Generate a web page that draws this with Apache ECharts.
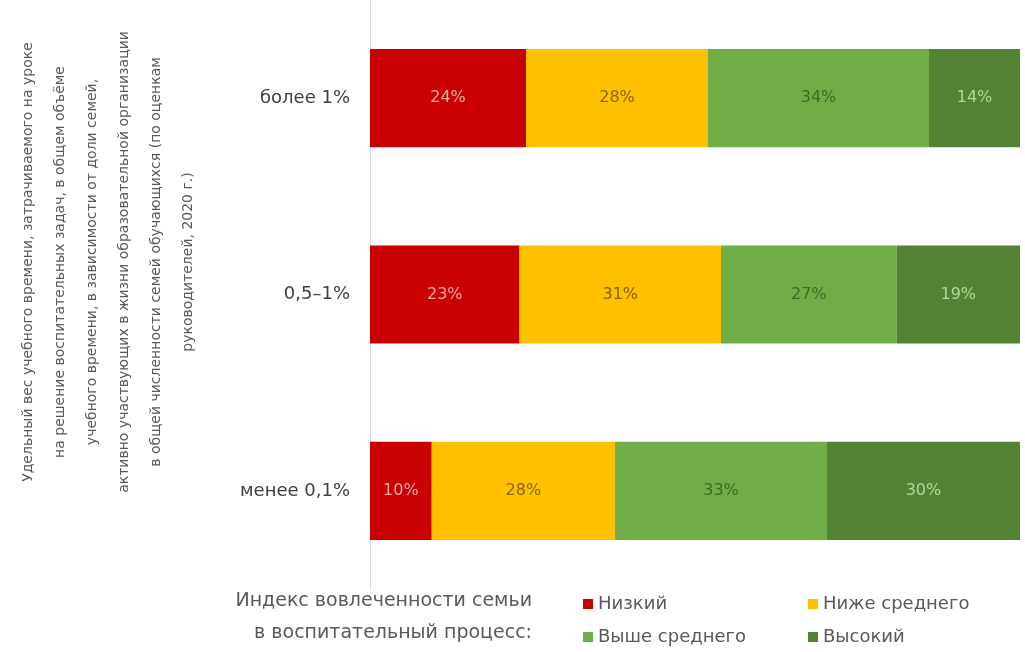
<!DOCTYPE html>
<html>
<head>
<meta charset="utf-8">
<script src="https://cdn.jsdelivr.net/npm/echarts@6/dist/echarts.min.js"></script>
<style>
    html, body { margin: 0; padding: 0; background: #fff; }
    #main { width: 1025px; height: 652px; }
</style>
</head>
<body>
<div id="main"></div>
<script>
// categories (top to bottom)
let categories = ['более 1%', '0,5–1%', 'менее 0,1%'];

// shares, %
let lowValues = [24, 23, 9.5];
let belowAvgValues = [28, 31, 28.2];
let aboveAvgValues = [34, 27, 32.6];
let highValues = [14, 19, 29.7];

let seriesNames = ['Низкий', 'Ниже среднего', 'Выше среднего', 'Высокий'];

let axisTitle = [
    'Удельный вес учебного времени, затрачиваемого на уроке',
    'на решение воспитательных задач, в общем объёме',
    'учебного времени, в зависимости от доли семей,',
    'активно участвующих в жизни образовательной организации',
    'в общей численности семей обучающихся (по оценкам',
    'руководителей, 2020 г.)'
];
let legendTitle = ['Индекс вовлеченности семьи', 'в воспитательный процесс:'];

const colors = {
    low: '#C80000',
    belowAvg: '#FFC000',
    aboveAvg: '#70AD47',
    high: '#548235'
};
const labelColors = {
    low: '#F6A8A8',
    belowAvg: '#8A6500',
    aboveAvg: '#3A6A22',
    high: '#B4D89A'
};

const font = 'DejaVu Sans, sans-serif';

function makeSeries(name, data, key) {
    return {
        name: name,
        type: 'bar',
        stack: 'total',
        barWidth: '50%',
        data: data,
        itemStyle: { color: colors[key] },
        label: {
            show: true,
            position: 'inside',
            fontFamily: font,
            fontSize: 16,
            color: labelColors[key],
            formatter: p => Math.round(p.value) + '%'
        }
    };
}

function makeLegend(name, left, top) {
    return {
        data: [name],
        left: left,
        top: top,
        icon: 'rect',
        itemWidth: 10,
        itemHeight: 10,
        itemGap: 0,
        textStyle: { color: '#595959', fontSize: 18, fontFamily: font }
    };
}

const option = {
    animation: false,
    backgroundColor: '#fff',
    grid: {
        left: 370,
        right: 5,
        top: -2,
        bottom: 63
    },
    legend: [
        makeLegend(seriesNames[0], 578, 590),
        makeLegend(seriesNames[1], 803, 590),
        makeLegend(seriesNames[2], 578, 623),
        makeLegend(seriesNames[3], 803, 623)
    ],
    xAxis: {
        type: 'value',
        min: 0,
        max: 100,
        show: false
    },
    yAxis: {
        type: 'category',
        data: categories,
        inverse: true,
        axisLine: { show: true, lineStyle: { color: '#D9D9D9' } },
        axisTick: { show: false },
        axisLabel: {
            margin: 20,
            fontSize: 18,
            fontFamily: font,
            color: '#404040'
        }
    },
    graphic: [
        {
            type: 'text',
            x: 108,
            y: 262,
            rotation: Math.PI / 2,
            style: {
                text: axisTitle.join('\n'),
                align: 'center',
                verticalAlign: 'middle',
                fontFamily: font,
                fontSize: 14,
                lineHeight: 32,
                fill: '#595959'
            }
        },
        {
            type: 'text',
            x: 532,
            y: 617,
            style: {
                text: legendTitle.join('\n'),
                align: 'right',
                verticalAlign: 'middle',
                fontFamily: font,
                fontSize: 19,
                lineHeight: 32,
                fill: '#595959'
            }
        }
    ],
    series: [
        makeSeries(seriesNames[0], lowValues, 'low'),
        makeSeries(seriesNames[1], belowAvgValues, 'belowAvg'),
        makeSeries(seriesNames[2], aboveAvgValues, 'aboveAvg'),
        makeSeries(seriesNames[3], highValues, 'high')
    ]
};

let plot = echarts.init(document.querySelector('#main'));
plot.setOption(option);
</script>
</body>
</html>
